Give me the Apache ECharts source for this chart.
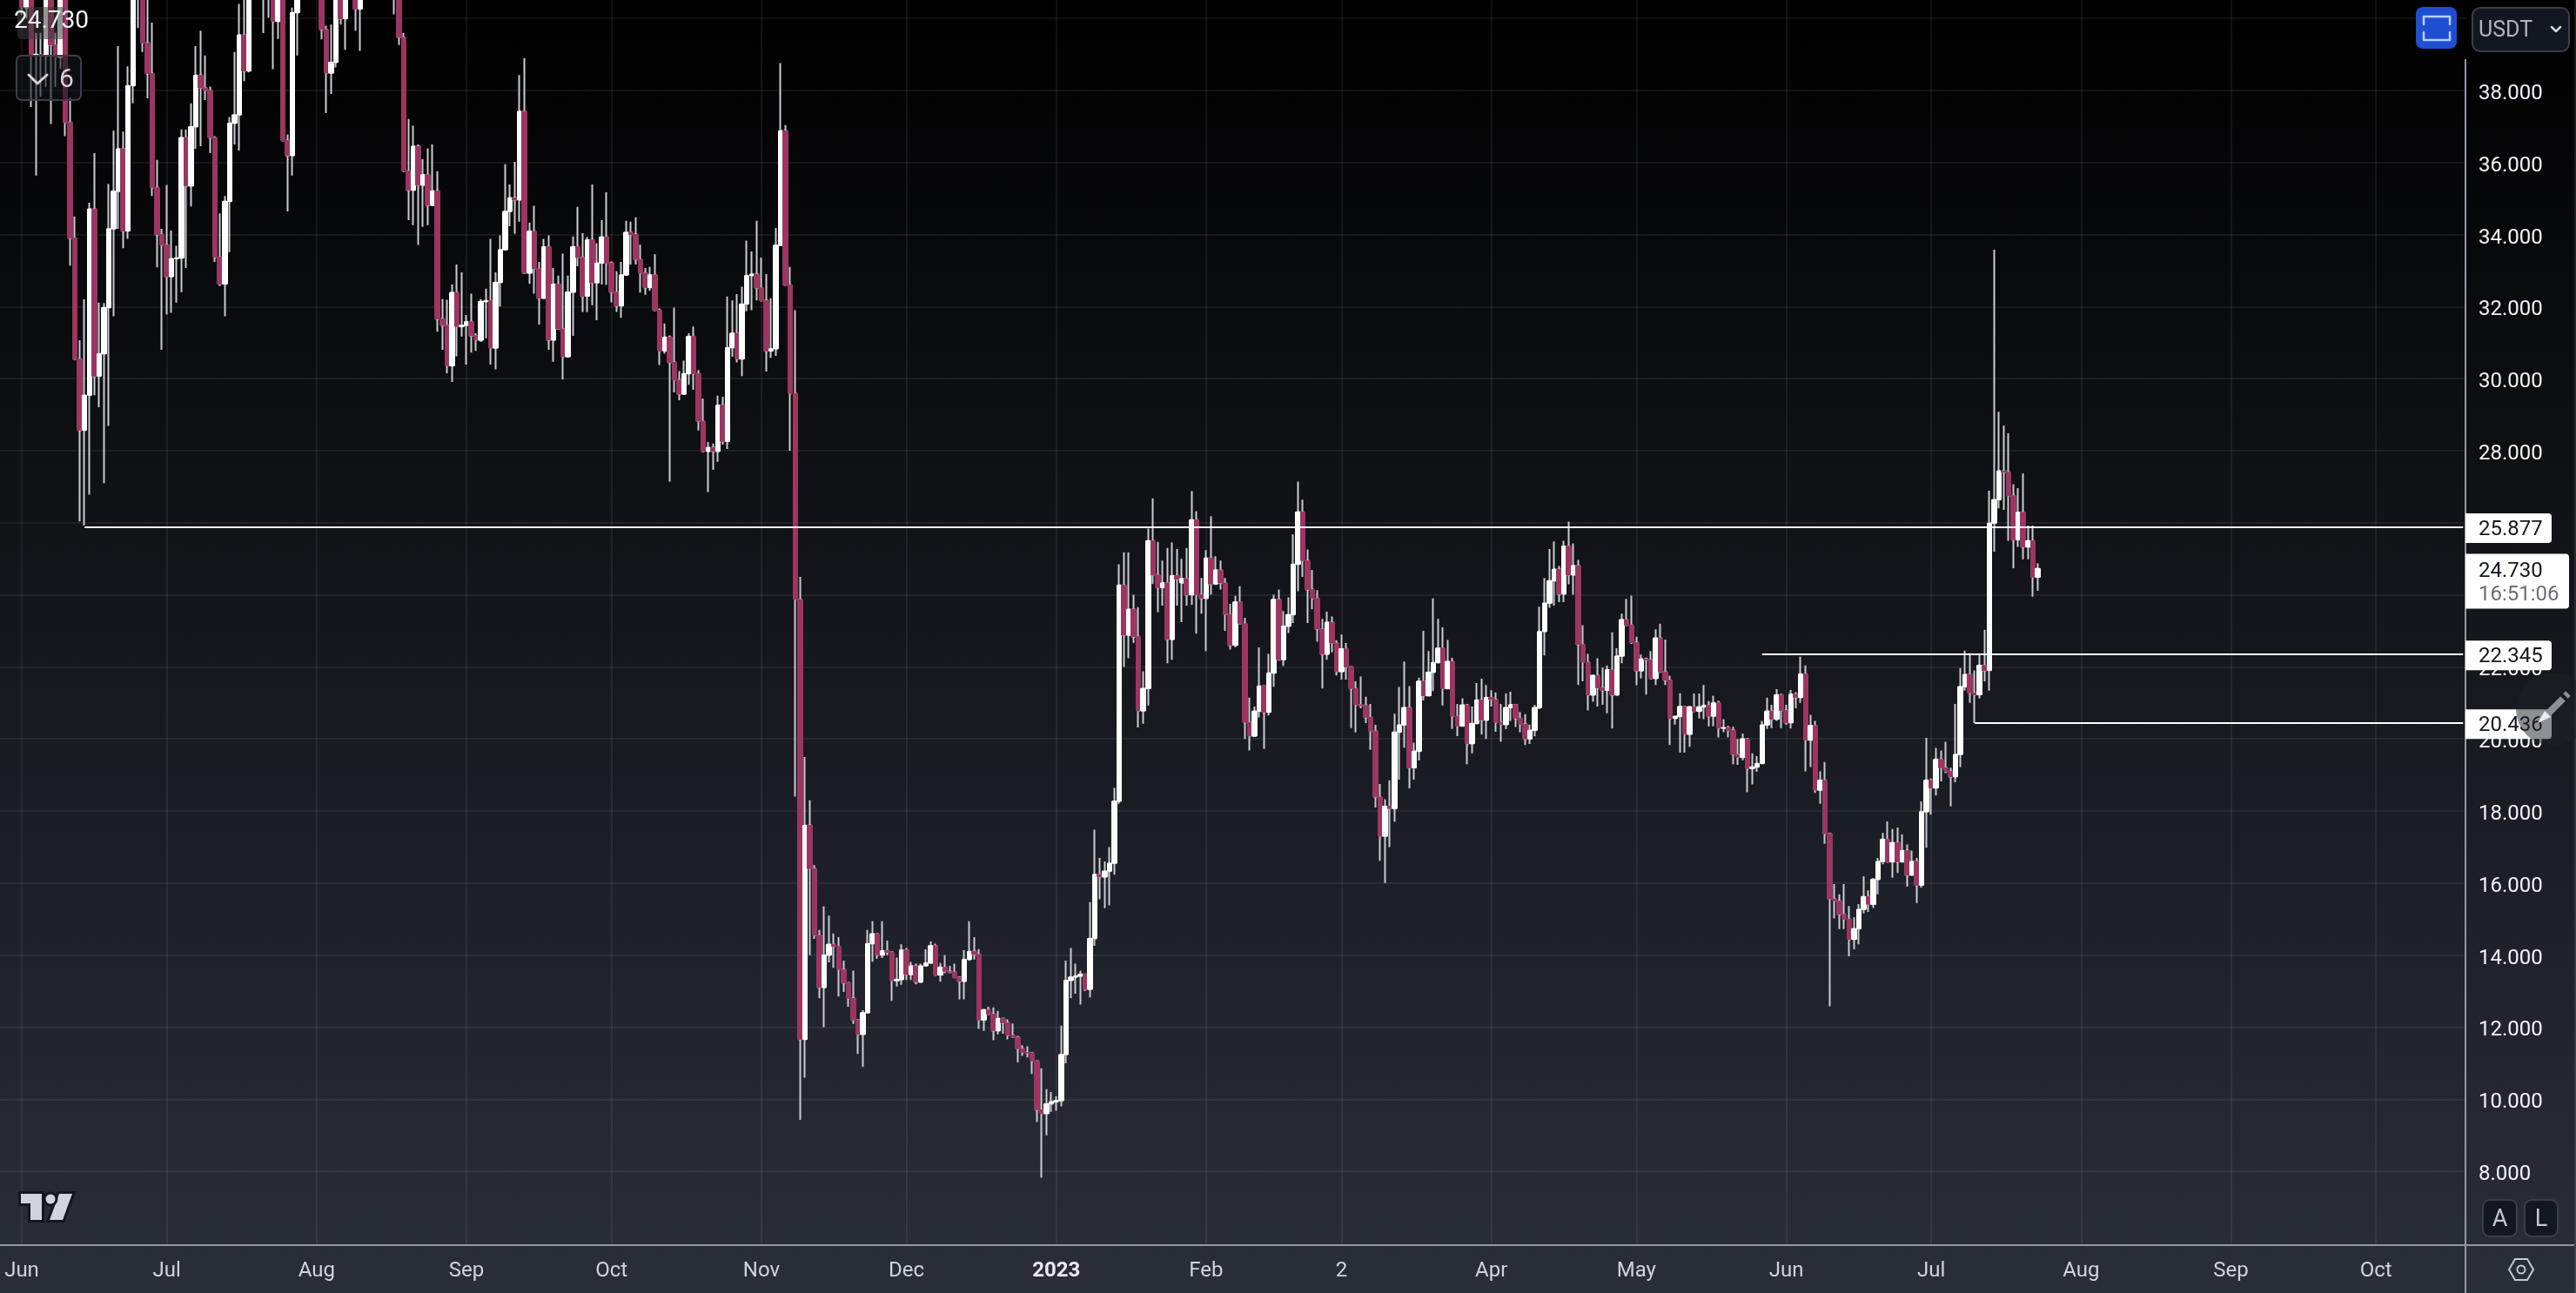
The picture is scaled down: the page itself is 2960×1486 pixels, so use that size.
<!DOCTYPE html>
<html>
<head>
<meta charset="utf-8">
<title>USDT daily candles</title>
<script src="https://cdn.jsdelivr.net/npm/echarts@6/dist/echarts.min.js"></script>
<style>
  html, body { margin: 0; padding: 0; background: #000; }
  #main { width: 2960px; height: 1486px; }
</style>
</head>
<body>
<div id="main"></div>
<script>
// daily candles, one list per month, rows are [open, close, low, high]
var may2022 = [[42.6,43.2,41.4,44.2],[43.2,44.8,42.6,45.6],[44.8,45.6,43.6,47.2],[45.6,44.6,42.6,46.4]]
var jun2022 = [[44.6,40.3,40.1,45],[40.3,42.6,40,43],[42.6,38.97,37.54,43],[38.97,39,35.64,39.6],[39,38.95,37.83,39.6],[38.95,41.2,38.1,41.8],[41.2,39.26,37.07,42],[39.26,38.92,38.1,39.6],[38.92,40.9,38.6,41.3],[40.9,37.11,36.73,41.3],[37.11,33.9,33.14,37.8],[33.9,30.54,30.54,34.5],[30.54,28.57,26.04,31.07],[28.57,29.54,25.92,32.2],[29.54,34.71,26.78,34.88],[34.71,30.07,29.54,36.26],[30.07,30.69,29.21,32.11],[30.69,31.97,27.1,32.1],[31.97,34.16,28.69,35.4],[34.16,35.2,31.73,36.88],[35.2,36.38,34.16,39.23],[36.38,34.1,33.62,36.86],[34.1,38.13,33.88,38.67],[38.13,40.9,37.64,41.6],[40.9,41.5,39.73,42.2],[41.5,39.32,39.07,42],[39.32,38.47,37.78,40.8],[38.47,35.3,35.07,39.88],[35.3,34,33.09,36.07],[34,33.71,30.8,34.16]]
var jul2022 = [[33.71,32.83,31.78,35.38],[32.83,33.33,31.83,34.11],[33.33,33.35,32.11,33.69],[33.35,36.69,32.4,36.92],[36.69,35.35,33.07,36.92],[35.35,36.99,34.78,37.64],[36.99,38.42,36.38,39.23],[38.42,38.07,36.45,39.66],[38.07,38,37.73,38.97],[38,36.69,36.26,38.11],[36.69,33.37,33.24,36.73],[33.37,32.63,32.57,34.59],[32.63,34.92,31.73,35.07],[34.92,37.09,33.51,37.26],[37.09,37.32,36.5,39.07],[37.32,39.54,36.33,40.4],[39.54,38.54,38.26,40.6],[38.54,40.9,38.5,41.5],[40.9,41.5,40.7,42.2],[41.5,41.9,41,42.6],[41.9,41.5,39.59,42.6],[41.5,41,40.02,42.5],[41,39.92,38.59,41.5],[39.92,41,39.43,41.5],[41,36.61,36.61,41.5],[36.61,36.19,34.64,36.78],[36.19,40.16,35.64,40.3],[40.16,40.9,38.97,41.3],[40.9,41.6,40.7,42.4],[41.6,42.4,41,43.2],[42.4,43,41.8,44]]
var aug2022 = [[43,41,40.7,43.6],[41,39.69,39.42,41.5],[39.69,38.48,37.37,39.8],[38.48,38.78,37.9,39.83],[38.78,40.9,38.64,41.2],[40.9,39.99,39.83,41.2],[39.99,41.1,39.13,41.6],[41.1,41.6,40.7,42.2],[41.6,40.26,39.66,42],[40.26,41.3,39.1,41.8],[41.3,42.5,40.9,43.2],[42.5,43.6,41.8,44.6],[43.6,44.2,42.8,45.2],[44.2,43.4,42.4,45],[43.4,43.9,42.6,44.8],[43.9,42.4,41.2,44.4],[42.4,41.2,40.11,43],[41.2,39.47,39.26,41.6],[39.47,35.76,35.76,39.6],[35.76,35.23,34.4,37.21],[35.23,36.45,34.26,37.02],[36.45,35.37,33.71,36.5],[35.37,35.66,34.21,36.09],[35.66,34.81,34.26,36.39],[34.81,35.21,34.81,36.5],[35.21,31.66,31.3,35.76],[31.66,31.48,30.8,32.21],[31.48,30.36,30.15,32.19],[30.36,32.39,29.91,32.61],[32.39,31.45,30.62,33.17],[31.45,31.48,31.17,32.95]]
var sep2022 = [[31.48,31.58,30.39,31.77],[31.58,31.19,30.72,32.36],[31.19,31.07,30.77,31.26],[31.07,32.14,31.02,32.2],[32.14,32.16,31.12,32.5],[32.16,30.85,30.39,33.88],[30.85,32.67,30.26,32.95],[32.67,33.58,32,33.98],[33.58,34.64,33.58,35.95],[34.64,35.02,34.23,35.39],[35.02,34.96,34.02,36.02],[34.96,37.42,34.36,38.43],[37.42,32.93,32.93,38.9],[32.93,34.09,32.63,34.33],[34.09,33.05,32.36,34.8],[33.05,32.23,31.5,33.24],[32.23,33.66,32.23,33.88],[33.66,31.07,30.8,33.98],[31.07,32.62,30.47,33.07],[32.62,31.38,31.38,32.86],[31.38,30.61,29.98,33.47],[30.61,32.4,30.61,32.86],[32.4,33.66,31.19,33.95],[33.66,33.36,33.12,34.77],[33.36,32.29,31.85,34.04],[32.29,33.85,31.85,33.93],[33.85,32.66,32.04,35.39],[32.66,33.21,31.62,33.76],[33.21,33.93,32.61,34.4],[33.93,33.21,32.6,35.17]]
var oct2022 = [[33.21,32.4,32.12,33.25],[32.4,32.02,31.85,32.98],[32.02,32.88,31.69,33.24],[32.88,34.06,32.88,34.38],[34.06,34,33.17,34.36],[34,33.31,33.17,34.48],[33.31,32.93,32.39,33.72],[32.93,32.53,32.33,33.07],[32.53,32.88,32.44,33.1],[32.88,31.9,31.88,33.45],[31.9,30.77,30.38,31.95],[30.77,31.15,30.69,31.53],[31.15,30.45,27.14,31.2],[30.45,29.96,29.62,31.97],[29.96,29.57,29.4,30.21],[29.57,30.14,29.57,30.5],[30.14,31.17,29.83,31.26],[31.17,30.14,29.69,31.45],[30.14,28.82,28.56,30.24],[28.82,27.98,27.95,29.45],[27.98,28.09,26.85,28.24],[28.09,27.98,27.47,28.2],[27.98,29.26,27.69,29.53],[29.26,28.26,28.17,29.5],[28.26,30.86,28.05,32.28],[30.86,31.26,30.61,32.17],[31.26,30.55,30.45,32.35],[30.55,32.07,30.07,32.55],[32.07,32.86,31.87,33.83],[32.86,32.9,31.9,33.53],[32.9,32.52,32.17,34.38]]
var nov2022 = [[32.52,32.17,32.14,33.36],[32.17,30.77,30.2,32.9],[30.77,30.83,30.58,32.23],[30.83,33.7,30.63,34.18],[33.7,36.88,33.68,38.76],[36.88,32.6,32.6,37.04],[32.6,29.59,28,33.1],[29.59,23.87,18.4,31.9],[23.87,11.66,9.43,24.5],[11.66,17.6,10.6,19.5],[17.6,16.4,14,18.3],[16.4,14.55,14.45,16.5],[14.55,13.1,12.8,14.7],[13.1,14,12,15.35],[14,14.3,13.8,15.1],[14.3,14.24,13.65,14.6],[14.24,13.6,12.85,14.5],[13.6,13.23,12.98,13.85],[13.23,12.8,12.57,13.25],[12.8,12.2,12.09,13.57],[12.2,11.8,11.26,12.2],[11.8,12.4,10.9,12.47],[12.4,14.32,12.4,14.7],[14.32,14.59,13.82,14.94],[14.59,14,13.9,14.6],[14,14.12,13.92,14.94],[14.12,14.08,14,14.4],[14.08,13.29,12.73,14.1],[13.29,13.32,13.13,13.93],[13.32,14.14,13.18,14.3]]
var dec2022 = [[14.14,13.46,13.31,14.2],[13.46,13.7,13.31,13.81],[13.7,13.25,13.19,13.76],[13.25,13.7,13.25,13.76],[13.7,13.78,13.68,14.16],[13.78,14.26,13.78,14.38],[14.26,13.45,13.45,14.32],[13.45,13.66,13.26,13.78],[13.66,13.55,13.5,14],[13.55,13.53,13.5,13.7],[13.53,13.38,13.36,13.76],[13.38,13.27,12.77,13.38],[13.27,13.88,12.77,14.14],[13.88,14.1,13.84,14.94],[14.1,14.02,13.88,14.5],[14.02,12.2,11.95,14.17],[12.2,12.48,11.9,12.48],[12.48,12.36,12.35,12.57],[12.36,11.9,11.64,12.55],[11.9,12.24,11.8,12.45],[12.24,12.12,11.82,12.26],[12.12,11.77,11.66,12.22],[11.77,11.72,11.7,12.1],[11.72,11.4,11.02,11.76],[11.4,11.3,11.2,11.5],[11.3,11.28,11.16,11.47],[11.28,11.06,10.7,11.3],[11.06,9.7,9.37,11.08],[9.7,9.6,7.82,10.86],[9.6,9.87,9,10.28],[9.87,9.93,9.65,10.2]]
var jan2023 = [[9.93,9.96,9.68,10.08],[9.96,11.24,9.8,12.04],[11.24,13.3,11,13.85],[13.3,13.39,12.8,14.2],[13.39,13.42,12.93,13.76],[13.42,13.47,12.63,13.57],[13.47,13.05,13,13.47],[13.05,14.46,12.83,15.47],[14.46,16.24,14.26,17.48],[16.24,16.17,15.55,16.7],[16.17,16.33,15.3,16.6],[16.33,16.55,15.38,17],[16.55,18.27,16.23,18.64],[18.27,24.27,18.2,24.85],[24.27,22.88,22,25.18],[22.88,23.6,22.24,25.18],[23.6,22.84,22.67,24],[22.84,20.78,20.32,23.66],[20.78,21.4,20.42,21.88],[21.4,25.5,20.93,25.84],[25.5,24.55,24.3,26.68],[24.55,24.2,23.52,25.47],[24.2,24.33,23.7,24.95],[24.33,22.76,22.1,25.3],[22.76,24.53,22.2,25.45],[24.53,24.43,23.7,25.27],[24.33,24.45,23.24,25],[24.45,24,23.7,25.3],[24,26.08,23.72,26.88],[26.08,24,22.92,26.32],[24,23.9,23.48,24.47]]
var feb2023 = [[23.9,25.02,22.44,25.24],[25.02,24.3,24,26.18],[24.3,24.69,24.28,25.07],[24.69,24.33,24.15,24.95],[24.33,23.46,23,24.47],[23.46,22.6,22.48,23.75],[22.6,23.8,22.55,23.97],[23.8,23.2,23.18,24.24],[23.2,20.46,20,23.36],[20.46,20.08,19.68,21.15],[20.08,20.77,20.08,20.9],[20.77,21.47,20.6,22.54],[21.47,20.74,19.72,21.47],[20.74,21.83,20.65,22.36],[21.83,23.87,21.45,24],[23.87,22.2,22.2,24.15],[22.2,23.13,22.03,23.55],[23.13,23.45,22.94,23.93],[23.45,24.85,23.22,25.68],[24.85,26.3,24.1,27.14],[26.3,24.95,24.5,26.64],[24.95,24.15,23.22,25.26],[24.15,23.9,23.6,24.69],[23.9,23.05,22.7,24.13],[23.05,22.35,21.4,23.33],[22.35,23.24,22.2,23.53],[23.24,22.66,22.4,23.4],[22.66,21.87,21.76,22.74]]
var mar2023 = [[21.87,22.5,21.65,22.9],[22.5,22,21.65,22.66],[22,21.4,20.3,22.02],[21.4,20.95,20.18,21.6],[20.95,20.93,20.85,21.73],[20.93,20.6,20.44,21.17],[20.6,20.22,19.7,20.97],[20.22,18.39,18.1,20.39],[18.39,17.3,16.62,18.75],[17.3,18.13,16,18.33],[18.13,18.07,17,18.85],[18.07,20.19,17.7,20.7],[20.19,20.39,18.87,21.44],[20.39,20.87,19.76,22.15],[20.87,19.2,18.63,21.47],[19.2,19.66,18.87,19.9],[19.66,21.6,19.4,21.7],[21.6,21.2,21.07,23],[21.2,21.85,21.2,22.44],[21.85,22.12,21.33,23.9],[22.12,22.52,22.12,23.33],[22.52,21.4,20.93,23.1],[21.4,22.15,21.4,22.75],[22.15,20.63,20.28,22.25],[20.63,20.36,20.08,20.97],[20.36,20.94,20.36,21.13],[20.94,19.87,19.3,20.97],[19.87,20.43,19.6,20.9],[20.43,21.08,20.43,21.55],[21.08,20.52,20.12,21.67],[20.52,21.15,20,21.5]]
var apr2023 = [[21.15,21.09,20.9,21.35],[21.09,20.46,20.2,21.29],[20.46,20.4,19.92,20.97],[20.4,20.87,20.27,21.26],[20.87,20.95,20.5,21.31],[20.95,20.57,20.33,20.97],[20.57,20.41,20.19,20.75],[20.41,20,19.83,20.69],[20,20.24,19.86,20.4],[20.24,20.87,20.07,20.94],[20.87,22.98,20.83,23.67],[22.98,23.77,22.32,24.47],[23.77,24.39,23.64,25.27],[24.39,24.71,23.7,25.48],[24.71,24.02,23.8,24.8],[24.02,25.35,23.8,25.5],[25.35,24.55,24.29,26.03],[24.55,24.81,24,25.43],[24.81,22.62,21.5,24.97],[22.62,22.13,21.6,23.16],[22.13,21.22,20.79,22.36],[21.22,21.76,21.03,21.78],[21.76,21.42,20.9,22.24],[21.42,21.35,20.95,21.98],[21.35,21.92,20.71,22.04],[21.92,21.22,20.29,22.96],[21.22,22.3,21.2,22.52],[22.3,23.31,22.1,23.48],[23.31,23.16,23.14,23.89],[23.16,22.68,22.64,23.98]]
var may2023 = [[22.68,21.89,21.49,22.84],[21.89,22.22,21.68,22.34],[22.22,22.19,21.23,22.26],[22.19,21.68,21.66,22.44],[21.68,22.8,21.5,23.04],[22.8,21.86,21.84,23.2],[21.86,21.63,21.5,22.76],[21.63,20.57,19.83,21.75],[20.57,20.63,20.4,20.65],[20.63,20.9,19.62,21.27],[20.9,20.13,19.62,20.92],[20.13,20.89,19.78,20.92],[20.89,20.77,20.74,21.26],[20.77,20.89,20.57,21.26],[20.89,20.93,20.55,21.5],[20.93,20.63,20.35,21.05],[20.63,21,20.35,21.2],[21,20.3,20.04,21.06],[20.3,20.31,20.19,20.55],[20.31,20.24,20.04,20.36],[20.24,19.57,19.3,20.34],[19.57,19.49,19.28,20],[19.49,20,19.41,20.15],[20,19.18,18.52,20.03],[19.18,19.22,18.74,19.6],[19.22,19.32,19.09,19.52],[19.32,20.39,19.3,20.5],[20.39,20.77,20.28,21.15],[20.77,20.55,20.3,20.95],[20.55,21.22,20.5,21.38],[21.22,20.79,20.3,21.26]]
var jun2023 = [[20.79,20.45,20.39,20.95],[20.45,21.24,20.29,21.36],[21.24,21.15,20.85,21.3],[21.15,21.8,21,22.28],[21.8,19.97,19.1,22.04],[19.97,20.37,19.22,20.67],[20.37,18.58,18.5,20.5],[18.58,18.85,18.2,19.1],[18.85,17.37,17.09,19.36],[17.37,15.56,12.58,17.4],[15.56,15.5,15.02,15.97],[15.5,15.13,14.72,15.69],[15.13,15,14.72,15.97],[15,14.44,13.97,15.36],[14.44,14.73,14.16,15.05],[14.73,15.27,14.3,15.42],[15.27,15.62,15.16,16.19],[15.62,15.41,15.2,15.8],[15.41,16.1,15.31,16.14],[16.1,16.6,15.69,16.7],[16.6,17.21,16.52,17.39],[17.21,16.59,16.57,17.71],[16.59,17.12,16.15,17.5],[17.12,16.59,16.28,17.54],[16.59,16.9,16.57,17.35],[16.9,16.22,15.9,17.07],[16.22,16.6,16.2,16.9],[16.6,15.94,15.45,16.7],[15.94,17.98,15.87,18.27],[17.98,18.85,16.98,20.03]]
var jul2023 = [[18.85,18.64,17.9,18.9],[18.64,19.43,18.43,19.75],[19.43,19.2,18.82,19.68],[19.2,19.1,19.05,19.92],[19.1,18.95,18.13,19.2],[18.95,19.57,18.8,20.97],[19.57,21.45,19.22,21.97],[21.45,21.79,21.34,22.45],[21.79,21.28,21,22.38],[21.28,21.23,20.44,21.9],[21.23,22.04,21.12,22.37],[22.04,21.9,21.6,23.03],[21.9,25.99,21.34,26.89],[25.99,26.64,25.2,33.58],[26.64,27.44,26.4,29.08],[27.44,27.4,26.36,28.7],[27.4,26.75,25.5,28.48],[26.75,25.53,24.74,27.07],[25.53,26.29,25.33,26.96],[26.29,25.33,24.99,27.37],[25.33,25.5,24.99,25.92],[25.5,24.49,23.95,25.92],[24.49,24.73,24.11,24.88]]

// tick labels
var monthDates = ['2022-06-01','2022-07-01','2022-08-01','2022-09-01','2022-10-01','2022-11-01','2022-12-01','2023-01-01','2023-02-01','2023-03-01','2023-04-01','2023-05-01','2023-06-01','2023-07-01','2023-08-01','2023-09-01','2023-10-01']
var monthLabels = ['Jun','Jul','Aug','Sep','Oct','Nov','Dec','2023','Feb','2','Apr','May','Jun','Jul','Aug','Sep','Oct']
var priceLabels = [8,10,12,14,16,18,20,22,24,26,28,30,32,34,36,38]
var priceGrid = [8,10,12,14,16,18,20,22,24,26,28,30,32,34,36,38,40]

// drawn horizontal levels
var levelPrices = [25.877,22.345,20.436]
var levelStarts = ['2022-06-14','2023-05-27','2023-07-10']
var lastPrice = 24.73
var countdown = '16:51:06'

var candles = [].concat(may2022,jun2022,jul2022,aug2022,sep2022,oct2022,nov2022,dec2022,jan2023,feb2023,mar2023,apr2023,may2023,jun2023,jul2023)

// one category per day, the empty days on the right keep the time scale going
var categories = []
for (var d = 0; d < 510; d++) {
  categories.push(new Date(Date.UTC(2022, 4, 28 + d)).toISOString().slice(0, 10))
}

var bodies = candles.map(function(c) {
  return [c[0], c[1], Math.min(c[0], c[1]), Math.max(c[0], c[1])]
})

var UP = '#ffffff'
var DOWN = '#9c3660'
var WICK = '#c9cbd1'
var GRID = 'rgba(235,240,250,0.07)'
var AXIS = '#9598a1'
var FONT = 'Roboto'

var chart = echarts.init(document.getElementById('main'))

var levelLines = levelPrices.map(function(p, i) {
  return [{ xAxis: levelStarts[i], yAxis: p }, { xAxis: categories[categories.length - 1], yAxis: p }]
})

chart.setOption({
  animation: false,
  backgroundColor: new echarts.graphic.LinearGradient(0, 0, 0, 1, [
    { offset: 0, color: '#000000' },
    { offset: 1, color: '#2a2e39' }
  ]),
  grid: { left: -1, right: 127, top: 0, bottom: 55 },
  xAxis: {
    type: 'category',
    data: categories,
    boundaryGap: true,
    axisLine: { show: false },
    axisTick: { show: false },
    axisLabel: {
      interval: function(i, v) { return monthDates.indexOf(v) >= 0 },
      margin: 18,
      fontFamily: FONT,
      fontSize: 24,
      color: '#d1d4dc',
      formatter: function(v) {
        var t = monthLabels[monthDates.indexOf(v)]
        return t === '2023' ? '{b|' + t + '}' : t
      },
      rich: { b: { fontFamily: FONT, fontSize: 24, fontWeight: 'bold', color: '#e8eaf0' } }
    },
    splitLine: {
      show: true,
      alignWithLabel: true,
      interval: function(i, v) { return monthDates.indexOf(v) >= 0 },
      lineStyle: { color: GRID, width: 2 }
    }
  },
  yAxis: {
    type: 'value',
    position: 'right',
    min: 5.95,
    max: 40.51,
    axisLine: { show: false },
    axisTick: { show: false, customValues: priceGrid },
    axisLabel: {
      customValues: priceLabels,
      margin: 15,
      align: 'left',
      formatter: function(v) { return '{p|' + v.toFixed(3) + '}' },
      rich: { p: { fontFamily: FONT, fontSize: 24, color: '#f0f3fa', padding: [8, 0, 0, 0] } }
    },
    splitLine: { show: true, lineStyle: { color: GRID, width: 2 } }
  },
  series: [{
    name: 'wicks',
    type: 'candlestick',
    data: candles,
    barWidth: 2,
    z: 2,
    itemStyle: {
      color: WICK, color0: WICK,
      borderColor: WICK, borderColor0: WICK, borderColorDoji: WICK,
      borderWidth: 2
    }
  }, {
    name: 'bodies',
    type: 'candlestick',
    data: bodies,
    barWidth: 6,
    z: 3,
    itemStyle: {
      color: UP, color0: DOWN,
      borderColor: UP, borderColor0: DOWN, borderColorDoji: UP,
      borderWidth: 1
    },
    markLine: {
      silent: true,
      symbol: 'none',
      animation: false,
      label: { show: false },
      lineStyle: { color: '#ffffff', width: 2, type: 'solid' },
      data: levelLines
    }
  }]
})

function txt(text, x, y, fill, size, extra) {
  var t = { type: 'text', z: 110, style: { text: text, x: x, y: y, fill: fill, font: (size || 24) + 'px ' + FONT, verticalAlign: 'middle' } }
  if (extra) t.style.align = extra
  return t
}
function box(x, y, w, h, r, fill, stroke) {
  return { type: 'rect', z: 105, shape: { x: x, y: y, width: w, height: h, r: r }, style: { fill: fill, stroke: stroke || null, lineWidth: stroke ? 2 : 0 } }
}
function poly(points, stroke, width) {
  return { type: 'polyline', z: 110, shape: { points: points }, style: { stroke: stroke, lineWidth: width, fill: null, lineCap: 'round', lineJoin: 'round' } }
}

var els = []
// price scale and time scale borders
els.push({ type: 'line', z: 100, shape: { x1: 2833, y1: 68, x2: 2833, y2: 1486 }, style: { stroke: AXIS, lineWidth: 2 } })
els.push({ type: 'line', z: 100, shape: { x1: 0, y1: 1431, x2: 2958, y2: 1431 }, style: { stroke: AXIS, lineWidth: 2 } })
els.push({ type: 'line', z: 100, shape: { x1: 2959, y1: 0, x2: 2959, y2: 1486 }, style: { stroke: 'rgba(255,255,255,0.1)', lineWidth: 2 } })

// labels on the price scale follow the axis
levelPrices.forEach(function(p) {
  var y = chart.convertToPixel({ yAxisIndex: 0 }, p)
  els.push(box(2833, y - 16, 99, 34, [0, 4, 4, 0], '#ffffff'))
  els.push(txt(p.toFixed(3), 2848, y + 3, '#131722'))
})
var ly = chart.convertToPixel({ yAxisIndex: 0 }, lastPrice)
els.push(box(2833, ly - 17, 119, 63, [0, 4, 4, 0], '#ffffff'))
els.push(txt(lastPrice.toFixed(3), 2848, ly + 4, '#131722'))
els.push(txt(countdown, 2848, ly + 31, '#6a6d78'))

// floating pencil button over the 20.436 label
els.push({ type: 'circle', z: 120, shape: { cx: 2933, cy: 815, r: 42 }, style: { fill: 'rgba(30,31,38,0.5)' } })
els.push({ type: 'line', z: 121, shape: { x1: 2929, y1: 819, x2: 2945, y2: 803 }, style: { stroke: '#8f8f93', lineWidth: 8 } })
els.push({ type: 'line', z: 121, shape: { x1: 2948, y1: 800, x2: 2951, y2: 797 }, style: { stroke: '#8f8f93', lineWidth: 8 } })
els.push({ type: 'polygon', z: 121, shape: { points: [[2916, 831], [2924, 817], [2931, 824]] }, style: { fill: '#ececec' } })

// top left legend
els.push(box(20, 8, 54, 37, 3, 'rgba(60,60,62,0.55)'))
els.push(txt(lastPrice.toFixed(3), 16, 25, '#f0f3fa', 28))
els.push(box(19, 64, 74, 51, 6, 'rgba(20,22,28,0.6)', '#3c3f49'))
els.push(poly([[33, 86], [43, 96], [54, 86]], '#d1d4dc', 3))
els.push(txt('6', 68, 92, '#d1d4dc', 30))

// top right buttons
els.push(box(2776, 8, 47, 48, 8, '#1f4fd0'))
els.push(poly([[2785, 28], [2785, 19], [2815, 19], [2815, 28]], '#b8cfff', 2.5))
els.push(poly([[2785, 37], [2785, 46], [2815, 46], [2815, 37]], '#b8cfff', 2.5))
els.push(box(2841, 9, 111, 50, 9, '#131722', '#3c3f49'))
els.push(txt('USDT', 2848, 36, '#b2b5be', 25))
els.push(poly([[2932, 31], [2937, 36], [2942, 31]], '#d1d4dc', 2.5))

// scale mode buttons and settings
els.push(box(2853, 1379, 39, 42, 8, '#131722', '#3c3f49'))
els.push(box(2901, 1379, 38, 42, 8, '#131722', '#3c3f49'))
els.push(txt('A', 2872.5, 1402, '#c4c8d0', 27, 'center'))
els.push(txt('L', 2920, 1402, '#c4c8d0', 27, 'center'))
els.push({ type: 'polygon', z: 110, shape: { points: [[2883, 1459], [2890, 1447], [2904, 1447], [2911, 1459], [2904, 1471], [2890, 1471]] }, style: { fill: null, stroke: '#c4c8d0', lineWidth: 2 } })
els.push({ type: 'circle', z: 110, shape: { cx: 2897, cy: 1459, r: 4.5 }, style: { fill: null, stroke: '#c4c8d0', lineWidth: 2 } })

// logo
var logoStyle = { fill: '#d1d4dc', stroke: '#131722', lineWidth: 6, strokeFirst: true }
els.push({ type: 'polygon', z: 110, shape: { points: [[24, 1372], [48, 1372], [48, 1402], [35, 1402], [35, 1383], [24, 1383]] }, style: logoStyle })
els.push({ type: 'polygon', z: 110, shape: { points: [[68, 1372], [83, 1372], [72, 1402], [57, 1402]] }, style: logoStyle })
els.push({ type: 'circle', z: 110, shape: { cx: 58, cy: 1378, r: 5.5 }, style: logoStyle })

chart.setOption({ graphic: { elements: els } })
</script>
</body>
</html>
